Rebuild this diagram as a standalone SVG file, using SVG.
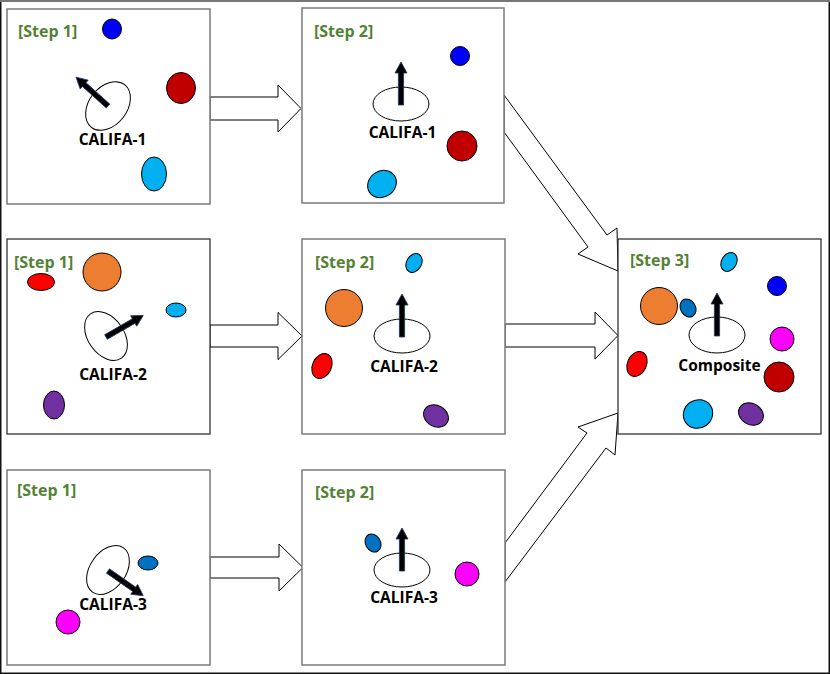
<svg xmlns="http://www.w3.org/2000/svg" xmlns:xlink="http://www.w3.org/1999/xlink" width="830" height="674" viewBox="0 0 830 674">
<style>
.panel{fill:#fff;stroke:#7a7a7a;stroke-width:1.5}
.panel.dk{stroke:#333;stroke-width:1.3}
.step{font-family:"Open Sans","Liberation Sans",Arial,sans-serif;font-weight:bold;font-size:16px;fill:#548235}
.lbl{font-family:"Open Sans","Liberation Sans",Arial,sans-serif;font-weight:bold;font-size:15.5px;fill:#000;text-anchor:middle}
.gal{fill:#fff;stroke:#000;stroke-width:1}
.dot{stroke:#000;stroke-width:1}
.blue{fill:#0000ff}.dred{fill:#c00000}.lblue{fill:#00b0f0}.orange{fill:#ed7d31}
.red{fill:#ff0000}.purple{fill:#7030a0}.mblue{fill:#0070c0}.mag{fill:#ff00ff}
.block{fill:#fff;stroke:#000;stroke-width:1;stroke-linejoin:miter}
</style>
<defs>
<polygon id="garrow" points="-2.6,0 -2.6,-32 -6,-32 0,-43 6,-32 2.6,-32 2.6,0" fill="#000" stroke="#1f3864" stroke-width="0.8"/>
</defs>
<rect x="0.75" y="0.75" width="828.5" height="672.5" fill="#fff" stroke="#111" stroke-width="1.5"/>
<line x1="0" y1="1" x2="830" y2="1" stroke="#777" stroke-width="2"/>

<g id="connectors">
<polygon class="block" points="210,97 278,97 278,85 301,108.5 278,132 278,120 210,120"/>
<polygon class="block" points="210,325 278,325 278,312.5 302,336 278,359.5 278,347 210,347"/>
<polygon class="block" points="210,557 279,557 279,544 303,567.5 279,591 279,578 210,578"/>
<polygon class="block" points="505,324 595,324 595,312 618,335.5 595,359 595,347 505,347"/>
<polygon class="block" points="504,95 607,235 617,228 618,271 578,254 588,247 504,132"/>
<polygon class="block" points="505,543 587,433 578,427 618,413 615,455 606,448 505,582"/>
</g>

<g id="step1-califa1">
<rect class="panel" x="7" y="9" width="203" height="195"/>
<text class="step" x="18" y="37">[Step 1]</text>
<ellipse class="dot blue" cx="112" cy="29" rx="9.5" ry="10"/>
<ellipse class="dot dred" cx="181" cy="88" rx="14.5" ry="15.5"/>
<ellipse class="dot lblue" cx="154" cy="174" rx="12.5" ry="17"/>
<ellipse class="gal" cx="108" cy="106" rx="27" ry="19" transform="rotate(-52 108 106)"/>
<use xlink:href="#garrow" transform="translate(108,106) rotate(-48)"/>
<text class="lbl" x="112.5" y="145">CALIFA-1</text>
</g>

<g id="step2-califa1">
<rect class="panel" x="302" y="8" width="202" height="195"/>
<text class="step" x="314" y="37">[Step 2]</text>
<ellipse class="dot blue" cx="460" cy="56" rx="9.5" ry="9.5"/>
<ellipse class="dot dred" cx="462" cy="146" rx="15" ry="15"/>
<ellipse class="dot lblue" cx="382" cy="184" rx="15" ry="13" transform="rotate(-35 382 184)"/>
<ellipse class="gal" cx="401" cy="104" rx="28" ry="17"/>
<use xlink:href="#garrow" transform="translate(401,105)"/>
<text class="lbl" x="402.5" y="138">CALIFA-1</text>
</g>

<g id="step1-califa2">
<rect class="panel dk" x="7" y="239" width="203" height="195"/>
<text class="step" x="14" y="268">[Step 1]</text>
<ellipse class="dot red" cx="41" cy="282" rx="13.5" ry="8.5"/>
<ellipse class="dot orange" cx="102" cy="272" rx="19" ry="19"/>
<ellipse class="dot lblue" cx="176" cy="310" rx="10" ry="7"/>
<ellipse class="dot purple" cx="54" cy="405" rx="10.5" ry="14"/>
<ellipse class="gal" cx="106" cy="336" rx="27" ry="18" transform="rotate(55 106 336)"/>
<use xlink:href="#garrow" transform="translate(106,337) rotate(60)"/>
<text class="lbl" x="113" y="380">CALIFA-2</text>
</g>

<g id="step2-califa2">
<rect class="panel" x="302" y="239" width="203" height="195"/>
<text class="step" x="315" y="268">[Step 2]</text>
<ellipse class="dot lblue" cx="414" cy="263" rx="7.5" ry="10" transform="rotate(30 414 263)"/>
<ellipse class="dot orange" cx="344" cy="308" rx="18.5" ry="18.5"/>
<ellipse class="dot red" cx="322" cy="366" rx="9.5" ry="13" transform="rotate(25 322 366)"/>
<ellipse class="dot purple" cx="436" cy="416" rx="13" ry="10.5" transform="rotate(30 436 416)"/>
<ellipse class="gal" cx="402" cy="336" rx="28" ry="17"/>
<use xlink:href="#garrow" transform="translate(402,337)"/>
<text class="lbl" x="404" y="372">CALIFA-2</text>
</g>

<g id="step1-califa3">
<rect class="panel" x="7" y="470" width="203" height="195"/>
<text class="step" x="17" y="496">[Step 1]</text>
<ellipse class="dot mblue" cx="148" cy="563" rx="10" ry="7"/>
<ellipse class="dot mag" cx="68" cy="622" rx="12" ry="12"/>
<ellipse class="gal" cx="108" cy="570" rx="27" ry="18" transform="rotate(-55 108 570)"/>
<use xlink:href="#garrow" transform="translate(108,571) rotate(125)"/>
<text class="lbl" x="113" y="610">CALIFA-3</text>
</g>

<g id="step2-califa3">
<rect class="panel" x="302" y="470" width="203" height="195"/>
<text class="step" x="315" y="498">[Step 2]</text>
<ellipse class="dot mblue" cx="373" cy="543" rx="7.5" ry="9.5" transform="rotate(-30 373 543)"/>
<ellipse class="dot mag" cx="467" cy="574" rx="12" ry="12"/>
<ellipse class="gal" cx="402" cy="570" rx="28" ry="17"/>
<use xlink:href="#garrow" transform="translate(402,571)"/>
<text class="lbl" x="404" y="603">CALIFA-3</text>
</g>

<g id="step3-composite">
<rect class="panel dk" x="618" y="239" width="203" height="195"/>
<text class="step" x="630" y="266">[Step 3]</text>
<ellipse class="dot lblue" cx="729" cy="262" rx="7.5" ry="10" transform="rotate(30 729 262)"/>
<ellipse class="dot blue" cx="777" cy="286" rx="9.5" ry="9.5"/>
<ellipse class="dot orange" cx="659" cy="306" rx="18.5" ry="18.5"/>
<ellipse class="dot mblue" cx="688" cy="308" rx="7.5" ry="9.5" transform="rotate(-30 688 308)"/>
<ellipse class="dot mag" cx="782" cy="339" rx="12" ry="12"/>
<ellipse class="dot red" cx="637" cy="364" rx="9.5" ry="13" transform="rotate(25 637 364)"/>
<ellipse class="dot dred" cx="779" cy="377" rx="15" ry="15"/>
<ellipse class="dot lblue" cx="698" cy="414" rx="15" ry="14" transform="rotate(-35 698 414)"/>
<ellipse class="dot purple" cx="751" cy="414" rx="13" ry="10.5" transform="rotate(30 751 414)"/>
<ellipse class="gal" cx="717" cy="335" rx="28" ry="18"/>
<use xlink:href="#garrow" transform="translate(717,336)"/>
<text class="lbl" x="719.5" y="371">Composite</text>
</g>
</svg>
